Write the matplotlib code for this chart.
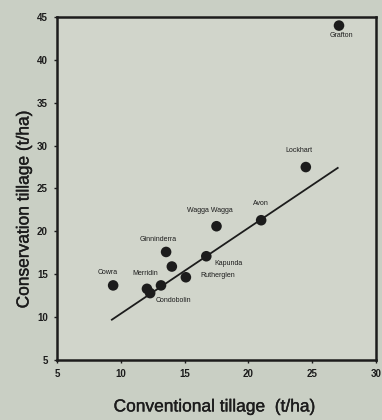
import matplotlib
matplotlib.use("Agg")
import matplotlib.pyplot as plt
import matplotlib.patheffects as pe

plt.rcParams['font.family'] = ['Liberation Sans', 'DejaVu Sans']

# Yield under conventional vs conservation tillage, by site (t/ha)
sites = ["Grafton", "Lockhart", "Avon", "Wagga Wagga", "Ginninderra",
         "Kapunda", "", "Rutherglen", "Cowra", "Merridin", "Condobolin", ""]
conventional = [27.1, 24.5, 21.0, 17.5, 13.55, 16.7, 14.0, 15.1, 9.4, 12.05, 12.3, 13.15]
conservation = [44.0, 27.5, 21.3, 20.6, 17.6, 17.1, 15.9, 14.65, 13.7, 13.3, 12.8, 13.7]

# Fitted trend line end points
fit_x = [9.3, 27.0]
fit_y = [9.7, 27.4]

x_ticks = [5, 10, 15, 20, 25, 30]
y_ticks = [5, 10, 15, 20, 25, 30, 35, 40, 45]

# label offsets (points) from each marker
offsets = [(2, -7), (-5, 12), (0, 12), (-5, 11), (-6, 9),
           (16, -5), (0, 0), (23, 1), (-4, 9), (-1, 11), (17, -5), (0, 0)]

bg = "#c9cfc4"
ink = "#1c1c1c"
heavy = [pe.withStroke(linewidth=0.25, foreground=ink)]

fig = plt.figure(figsize=(3.82, 4.20), dpi=100, facecolor=bg)
ax = fig.add_axes([57 / 382, 1 - 360 / 420, (376 - 57) / 382, (360 - 17) / 420])
ax.set_facecolor("#d1d5cb")

ax.plot(fit_x, fit_y, color=ink, lw=1.3, zorder=2)
ax.scatter(conventional, conservation, s=58, color=ink, zorder=3, edgecolors="none")

for name, x, y, off in zip(sites, conventional, conservation, offsets):
    if name:
        ax.annotate(name, (x, y), xytext=off, textcoords="offset points",
                    ha="center", va="center", fontsize=5, color=ink)

ax.set_xlim(5, 30)
ax.set_ylim(5, 45)
ax.set_xticks(x_ticks)
ax.set_yticks(y_ticks)
ax.tick_params(labelsize=7, colors=ink, length=2.5, width=1, pad=4)
for lab in ax.get_xticklabels() + ax.get_yticklabels():
    lab.set_fontweight("bold")

for sp in ax.spines.values():
    sp.set_linewidth(1.8)
    sp.set_color(ink)

ax.set_xlabel("Conventional tillage  (t/ha)", fontsize=12.5, color=ink,
              path_effects=heavy)
ax.set_ylabel("Conservation tillage (t/ha)", fontsize=12.5, color=ink,
              path_effects=heavy)
ax.xaxis.set_label_coords(0.495, -0.115)
ax.yaxis.set_label_coords(-0.08, 0.44)

fig.savefig("out.png", dpi=100, facecolor=bg)
